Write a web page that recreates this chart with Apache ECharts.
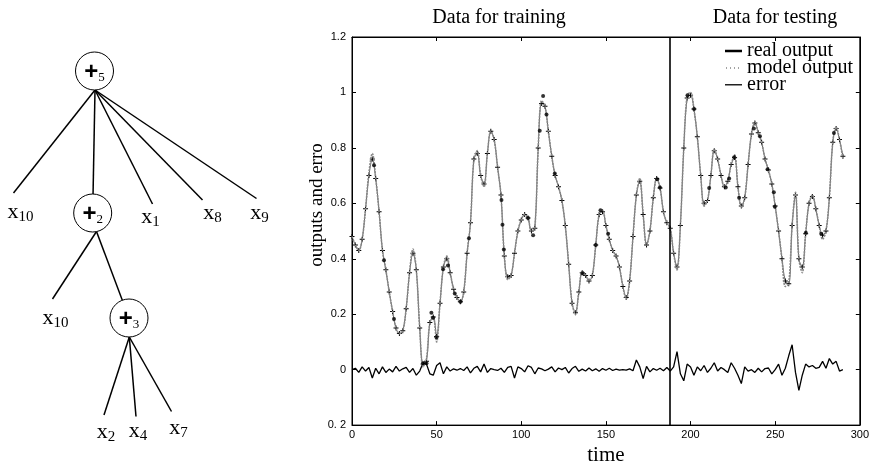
<!DOCTYPE html>
<html>
<head>
<meta charset="utf-8">
<script src="https://cdn.jsdelivr.net/npm/echarts@6/dist/echarts.min.js"></script>
<style>
  html, body { margin: 0; padding: 0; background: #fff; }
  #chart { width: 872px; height: 471px; }
</style>
</head>
<body>
<div id="chart"></div>
<script>
// samples are every 2 time units, starting at 0
const timeStep = 2;

const realOutput = [
  0.48, 0.45, 0.43, 0.47, 0.58, 0.70, 0.76, 0.69, 0.57, 0.43,
  0.36, 0.28, 0.21, 0.15, 0.13, 0.14, 0.22, 0.35, 0.42, 0.36,
  0.15, 0.02, 0.03, 0.17, 0.19, 0.12, 0.24, 0.37, 0.40, 0.35,
  0.29, 0.26, 0.245, 0.28, 0.42, 0.53, 0.76, 0.78, 0.70, 0.67,
  0.78, 0.86, 0.83, 0.73, 0.63, 0.41, 0.335, 0.34, 0.42, 0.50,
  0.54, 0.56, 0.547, 0.50, 0.51, 0.80, 0.96, 0.95, 0.86, 0.77,
  0.70, 0.66, 0.61, 0.52, 0.38, 0.24, 0.205, 0.28, 0.35, 0.34,
  0.32, 0.34, 0.45, 0.56, 0.57, 0.52, 0.47, 0.43, 0.41, 0.37,
  0.30, 0.26, 0.32, 0.48, 0.63, 0.68, 0.56, 0.45, 0.50, 0.62,
  0.69, 0.655, 0.57, 0.53, 0.51, 0.42, 0.37, 0.52, 0.80, 0.98,
  0.99, 0.94, 0.84, 0.70, 0.60, 0.61, 0.70, 0.79, 0.76, 0.70,
  0.66, 0.68, 0.74, 0.765, 0.66, 0.59, 0.62, 0.74, 0.85, 0.89,
  0.855, 0.82, 0.76, 0.72, 0.67, 0.59, 0.50, 0.40, 0.32, 0.31,
  0.52, 0.63, 0.40, 0.37, 0.49, 0.60, 0.625, 0.58, 0.52, 0.485,
  0.50, 0.62, 0.82, 0.87, 0.83, 0.77
];

const modelOutput = [
  0.48, 0.45, 0.43, 0.47, 0.58, 0.71, 0.78, 0.69, 0.57, 0.43,
  0.36, 0.28, 0.21, 0.15, 0.13, 0.14, 0.22, 0.35, 0.435, 0.36,
  0.15, 0.01, 0.04, 0.17, 0.19, 0.10, 0.24, 0.37, 0.41, 0.35,
  0.29, 0.26, 0.245, 0.28, 0.42, 0.53, 0.76, 0.79, 0.70, 0.66,
  0.78, 0.86, 0.83, 0.73, 0.63, 0.41, 0.325, 0.34, 0.42, 0.50,
  0.54, 0.56, 0.547, 0.50, 0.51, 0.80, 0.97, 0.95, 0.86, 0.77,
  0.70, 0.66, 0.61, 0.52, 0.38, 0.24, 0.20, 0.28, 0.355, 0.34,
  0.32, 0.34, 0.45, 0.56, 0.575, 0.52, 0.47, 0.43, 0.41, 0.37,
  0.30, 0.255, 0.32, 0.48, 0.63, 0.69, 0.56, 0.45, 0.50, 0.62,
  0.69, 0.655, 0.57, 0.53, 0.51, 0.42, 0.36, 0.52, 0.80, 0.99,
  1.0, 0.94, 0.84, 0.70, 0.59, 0.61, 0.70, 0.795, 0.76, 0.70,
  0.66, 0.68, 0.74, 0.775, 0.66, 0.585, 0.62, 0.74, 0.85, 0.895,
  0.855, 0.82, 0.76, 0.72, 0.67, 0.59, 0.50, 0.40, 0.30, 0.31,
  0.52, 0.64, 0.40, 0.35, 0.49, 0.60, 0.63, 0.58, 0.52, 0.47,
  0.50, 0.62, 0.82, 0.875, 0.83, 0.76
];

const outputError = [
  0.0, 0.005, -0.01, 0.01, -0.005, 0.008, -0.03, 0.005, -0.015, 0.01,
  -0.01, 0.002, -0.008, 0.012, -0.005, 0.003, 0.008, -0.01, 0.004, -0.02,
  -0.005, 0.025, 0.02, -0.015, -0.02, 0.015, 0.025, -0.015, 0.01, -0.005,
  0.003, -0.002, 0.004, -0.003, 0.01, -0.012, 0.005, 0.012, -0.008, 0.02,
  -0.01, 0.004, 0.0, -0.003, 0.005, -0.01, 0.008, 0.012, -0.03, 0.01,
  0.004, -0.008, 0.014, 0.008, -0.015, 0.006, 0.003, -0.004, 0.002, 0.01,
  -0.008, 0.006, 0.0, 0.008, -0.012, 0.004, 0.012, -0.006, 0.002, -0.005,
  0.006, -0.004, 0.003, -0.006, 0.004, -0.002, 0.005, -0.003, 0.002, -0.002,
  0.0, -0.002, 0.003, -0.004, 0.035, 0.01, -0.032, 0.012, -0.008, 0.004,
  -0.002, 0.005, -0.004, 0.008, -0.005, 0.01, 0.065, -0.015, -0.04, 0.02,
  0.01, -0.02, 0.01, -0.004, 0.015, -0.01, 0.005, 0.025, -0.005, 0.008,
  0.0, -0.01, 0.025, 0.005, -0.02, -0.05, 0.01, -0.005, 0.0, -0.01,
  0.005, -0.008, 0.004, 0.006, -0.015, 0.0, 0.02, -0.02, 0.005, 0.05,
  0.09, -0.01, -0.075, -0.02, 0.02, 0.01, 0.015, 0.005, 0.008, 0.03,
  0.005, 0.04, 0.02, 0.03, -0.005, 0.0
];

// highlighted samples (black dots) [time, value]
const markedSamples = [
  [13, 0.737], [18.9, 0.395], [24.8, 0.183], [42, 0.023], [44, 0.023],
  [46.9, 0.205], [47.9, 0.187], [49.9, 0.117], [53.8, 0.362], [56.7, 0.376],
  [60.7, 0.275], [64.1, 0.245], [69.1, 0.474], [88.3, 0.612], [88.9, 0.523],
  [89.7, 0.433], [104, 0.547], [107, 0.485], [110.9, 0.862], [112.9, 0.987],
  [114.9, 0.92], [119.8, 0.708], [136.2, 0.348], [144, 0.45], [146.8, 0.575],
  [151.3, 0.49], [180.3, 0.687], [181.9, 0.657], [198.2, 0.99], [202.1, 0.94],
  [211, 0.655], [220.8, 0.657], [222.8, 0.69], [225.8, 0.766], [228.7, 0.62],
  [237.4, 0.87], [241, 0.842], [245.5, 0.723], [249.2, 0.64], [249.8, 0.588],
  [268.1, 0.494], [277.2, 0.49], [284.7, 0.854]
];

const trainTestSplit = 187.5;
const xTicks = { min: 0, max: 300, step: 50 };
const yTicks = { min: -0.2, max: 1.2, step: 0.2 };

// expression tree: operator nodes, leaves, and the point under each circle where branches start
const treeNodes = [
  { id: 'add5', op: '5', x: 94.5, y: 71 },
  { id: 'hub5', x: 95, y: 90 },
  { id: 'x10a', leaf: '10', x: 13.5, y: 193, dx: 7, dy: 19 },
  { id: 'add2', op: '2', x: 92.7, y: 213 },
  { id: 'x1', leaf: '1', x: 152.5, y: 204, dx: -2, dy: 13 },
  { id: 'x8', leaf: '8', x: 202.5, y: 200, dx: 10, dy: 13 },
  { id: 'x9', leaf: '9', x: 256.5, y: 198.5, dx: 3, dy: 15 },
  { id: 'hub2', x: 96.5, y: 231.5 },
  { id: 'x10b', leaf: '10', x: 52.5, y: 299, dx: 3, dy: 19 },
  { id: 'add3', op: '3', x: 129, y: 318 },
  { id: 'hub3', x: 129.3, y: 337 },
  { id: 'x2', leaf: '2', x: 104, y: 415, dx: 2, dy: 17 },
  { id: 'x4', leaf: '4', x: 136, y: 416.5, dx: 2, dy: 15 },
  { id: 'x7', leaf: '7', x: 171.5, y: 411.5, dx: 7, dy: 17 }
];
const treeEdges = [
  ['hub5', 'x10a'], ['hub5', 'add2'], ['hub5', 'x1'], ['hub5', 'x8'], ['hub5', 'x9'],
  ['hub2', 'x10b'], ['hub2', 'add3'],
  ['hub3', 'x2'], ['hub3', 'x4'], ['hub3', 'x7']
];

const serif = 'Liberation Serif';
const sans = 'Liberation Sans';

const toPairs = (arr) => arr.map((v, i) => [i * timeStep, v]);

const crossPath = 'path://M2,0h1v5h-1z M0,2h5v1h-5z';
const iconReal = 'path://M0,0h.01v.01h-.01z M0,3.8h17v2.4h-17z M17,9.99h.01v.01h-.01z';
const iconModel = 'path://M0,0h.01v.01h-.01z M1,4.5h1v1h-1z M5,4.5h1v1h-1z M9,4.5h1v1h-1z M13,4.5h1v1h-1z M17,9.99h.01v.01h-.01z';
const iconError = 'path://M0,0h.01v.01h-.01z M0,4h17v1.6h-17z M17,9.99h.01v.01h-.01z';

const chart = echarts.init(document.getElementById('chart'), null, { renderer: 'canvas' });

const tickAxis = (pos, isX, showLabel) => {
  const t = isX ? xTicks : yTicks;
  return {
    type: 'value',
    position: pos,
    min: t.min,
    max: t.max,
    interval: t.step,
    gridIndex: 0,
    axisLine: { show: true, onZero: false, lineStyle: { color: '#000', width: 1 } },
    axisTick: { show: true, inside: true, length: 4, lineStyle: { color: '#000', width: 1 } },
    splitLine: { show: false },
    axisLabel: {
      show: showLabel,
      color: '#000',
      fontFamily: sans,
      fontSize: 11,
      margin: isX ? 4 : 6,
      formatter: (v) => (v < 0 ? '0. 2' : String(Math.round(v * 10) / 10))
    }
  };
};

const option = {
  animation: false,
  backgroundColor: '#fff',
  grid: [
    { left: 352, right: 12, top: 37, bottom: 34, show: true, borderColor: '#000', borderWidth: 1, backgroundColor: 'transparent' },
    { left: 0, top: 0, width: 300, height: 471, show: false }
  ],
  xAxis: [
    Object.assign(tickAxis('bottom', true, true), {
      name: 'time',
      nameLocation: 'middle',
      nameGap: 14,
      nameTextStyle: { fontFamily: serif, fontSize: 21, color: '#000', verticalAlign: 'top' }
    }),
    tickAxis('top', true, false),
    { type: 'value', gridIndex: 1, min: 0, max: 300, show: false }
  ],
  yAxis: [
    tickAxis('left', false, true),
    tickAxis('right', false, false),
    { type: 'value', gridIndex: 1, min: 0, max: 471, inverse: true, show: false }
  ],
  legend: {
    orient: 'vertical',
    left: 720,
    top: 36,
    itemWidth: 17,
    itemHeight: 10,
    itemGap: -3,
    textStyle: { fontFamily: serif, fontSize: 20, color: '#000', lineHeight: 17 },
    data: [
      { name: 'real output', icon: iconReal, itemStyle: { color: '#000' } },
      { name: 'model output', icon: iconModel, itemStyle: { color: '#444' } },
      { name: 'error', icon: iconError, itemStyle: { color: '#222' } }
    ]
  },
  graphic: [
    {
      type: 'text', x: 499, y: 18,
      style: { text: 'Data for training', font: '20px "' + serif + '"', fill: '#000', align: 'center', verticalAlign: 'middle' }
    },
    {
      type: 'text', x: 775, y: 18,
      style: { text: 'Data for testing', font: '20px "' + serif + '"', fill: '#000', align: 'center', verticalAlign: 'middle' }
    },
    {
      type: 'text', x: 317, y: 205, rotation: Math.PI / 2,
      style: { text: 'outputs and erro', font: '19px "' + serif + '"', fill: '#000', align: 'center', verticalAlign: 'middle' }
    }
  ],
  series: [
    {
      name: 'real output',
      type: 'line',
      xAxisIndex: 0,
      yAxisIndex: 0,
      data: toPairs(realOutput),
      smooth: 0.35,
      showAllSymbol: true,
      symbol: crossPath,
      symbolSize: 5,
      itemStyle: { color: '#000' },
      lineStyle: { color: '#000', width: 0.6 },
      z: 3
    },
    {
      name: 'model output',
      type: 'line',
      xAxisIndex: 0,
      yAxisIndex: 0,
      data: toPairs(modelOutput),
      smooth: 0.35,
      showSymbol: false,
      itemStyle: { color: '#888' },
      lineStyle: { color: '#888', width: 1.6, type: [2, 1] },
      z: 4
    },
    {
      name: 'dots',
      type: 'scatter',
      xAxisIndex: 0,
      yAxisIndex: 0,
      data: markedSamples,
      symbolSize: 4,
      itemStyle: { color: '#000' },
      z: 5
    },
    {
      name: 'error',
      type: 'line',
      xAxisIndex: 0,
      yAxisIndex: 0,
      data: toPairs(outputError),
      showSymbol: false,
      itemStyle: { color: '#000' },
      lineStyle: { color: '#000', width: 1.3 },
      markLine: {
        silent: true,
        symbol: ['none', 'none'],
        label: { show: false },
        lineStyle: { color: '#000', width: 1.6, type: 'solid' },
        data: [{ xAxis: trainTestSplit }]
      },
      z: 3
    },
    {
      type: 'graph',
      coordinateSystem: 'cartesian2d',
      xAxisIndex: 2,
      yAxisIndex: 2,
      silent: true,
      symbol: 'circle',
      itemStyle: { color: '#fff', borderColor: '#000', borderWidth: 1 },
      lineStyle: { color: '#000', width: 1.5, opacity: 1, curveness: 0 },
      label: {
        show: true,
        position: 'inside',
        color: '#000',
        rich: {
          p: { fontFamily: sans, fontSize: 24, fontWeight: 'bold', color: '#000' },
          x: { fontFamily: serif, fontSize: 22, color: '#000' },
          s: { fontFamily: serif, fontSize: 15, color: '#000', padding: [10, 0, 0, 0] },
          so: { fontFamily: serif, fontSize: 13, color: '#000', padding: [12, 0, 0, 0] }
        }
      },
      data: treeNodes.map((n) => {
        if (n.op) {
          return {
            name: n.id, value: [n.x, n.y], symbolSize: 38,
            label: { formatter: '{p|+}{so|' + n.op + '}', offset: [0, 1] }
          };
        }
        if (n.leaf) {
          return {
            name: n.id, value: [n.x, n.y], symbolSize: 0,
            label: { formatter: '{x|x}{s|' + n.leaf + '}', offset: [n.dx, n.dy] }
          };
        }
        return { name: n.id, value: [n.x, n.y], symbolSize: 0, label: { show: false } };
      }),
      links: treeEdges.map((e) => ({ source: e[0], target: e[1] })),
      z: 2
    }
  ]
};

chart.setOption(option);
</script>
</body>
</html>
